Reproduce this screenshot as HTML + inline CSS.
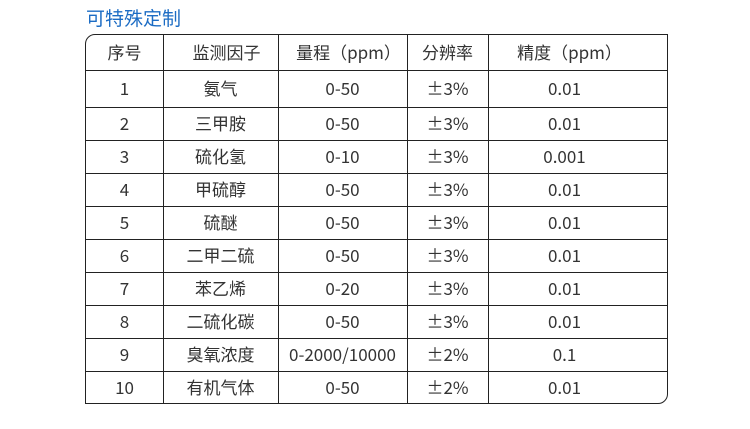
<!DOCTYPE html><html><head><meta charset="utf-8"><style>
body{margin:0;width:750px;height:429px;background:#fff;position:relative;font-family:"Noto Sans CJK SC","Liberation Sans",sans-serif;color:#333;overflow:hidden}
.t{position:absolute;left:86px;top:6px;font-size:19px;color:#1c6cc4;line-height:24px}
.tb{position:absolute;left:85px;top:34px;width:583px;height:370px;border:1.5px solid #222;border-radius:10px 0 10px 0;box-sizing:border-box}
.h{position:absolute;left:85px;width:582px;height:0;border-top:1.5px solid #222}
.v{position:absolute;top:34px;height:370px;width:0;border-left:1.5px solid #222}
.c{position:absolute;font-size:17px;text-align:center;line-height:20px;height:20px;white-space:nowrap}
</style></head><body>
<div class="t">可特殊定制</div>
<div class="tb"></div>
<div class="h" style="top:70px"></div>
<div class="h" style="top:107px"></div>
<div class="h" style="top:140px"></div>
<div class="h" style="top:173px"></div>
<div class="h" style="top:206px"></div>
<div class="h" style="top:239px"></div>
<div class="h" style="top:272px"></div>
<div class="h" style="top:305px"></div>
<div class="h" style="top:338px"></div>
<div class="h" style="top:371px"></div>
<div class="v" style="left:163px"></div>
<div class="v" style="left:278px"></div>
<div class="v" style="left:407px"></div>
<div class="v" style="left:488px"></div>
<div id="rows"></div>
<script>
var d=[["序号","监测因子","量程（ppm）","分辨率","精度（ppm）"],["1","氨气","0-50","±3%","0.01"],["2","三甲胺","0-50","±3%","0.01"],["3","硫化氢","0-10","±3%","0.001"],["4","甲硫醇","0-50","±3%","0.01"],["5","硫醚","0-50","±3%","0.01"],["6","二甲二硫","0-50","±3%","0.01"],["7","苯乙烯","0-20","±3%","0.01"],["8","二硫化碳","0-50","±3%","0.01"],["9","臭氧浓度","0-2000/10000","±2%","0.1"],["10","有机气体","0-50","±2%","0.01"]];
var cx=[[86,163],[163,278],[278,407],[407,488],[488,667]];
var ys=[34,70,107,140,173,206,239,272,305,338,371,404];
var h="";
for(var i=0;i<d.length;i++){var m=(ys[i]+ys[i+1])/2-0.5;for(var j=0;j<5;j++){var l=cx[j][0],w=cx[j][1]-l;if(i==0&&j==1){l+=6;}if(i==0&&j==4){l-=8;}if(i>0&&j==4){l-=13;}if(i==0&&j==2){l+=6;}h+='<div class="c" style="left:'+l+'px;width:'+w+'px;top:'+(m-10)+'px">'+d[i][j]+'</div>';}}
document.getElementById("rows").innerHTML=h;
</script>
</body></html>
